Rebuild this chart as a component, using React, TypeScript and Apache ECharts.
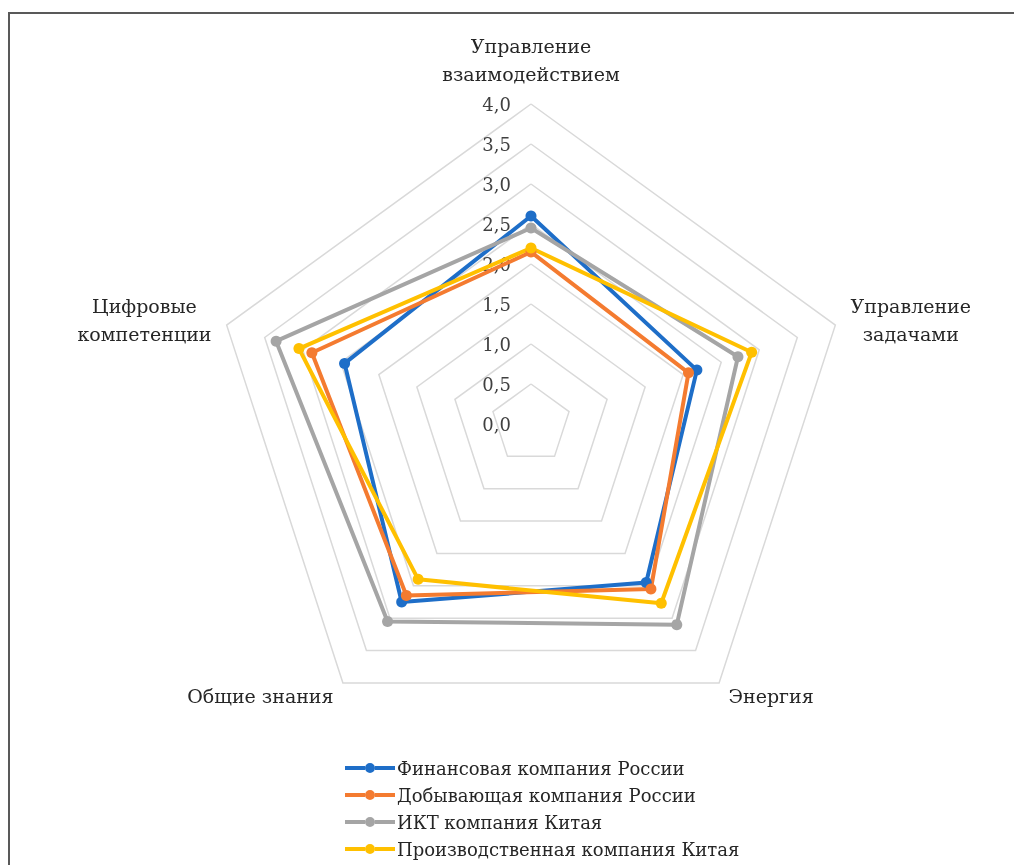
import React, { useEffect, useRef } from "react";
import * as echarts from "echarts";

const categories = [
  "Управление\nвзаимодействием",
  "Цифровые\nкомпетенции",
  "Общие знания",
  "Энергия",
  "Управление\nзадачами",
];
const axisMax = 4;
const seriesNames = [
  "Финансовая компания России",
  "Добывающая компания России",
  "ИКТ компания Китая",
  "Производственная компания Китая",
];
const finRussia = [2.6, 2.45, 2.75, 2.45, 2.18];
const mineRussia = [2.15, 2.88, 2.65, 2.55, 2.07];
const ictChina = [2.45, 3.35, 3.05, 3.1, 2.72];
const prodChina = [2.2, 3.05, 2.4, 2.77, 2.9];
const seriesValues = [finRussia, mineRussia, ictChina, prodChina];
const colors = ["#1e6ec8", "#f47b30", "#a5a5a5", "#ffc000"];

const FONT = "'DejaVu Serif', 'Liberation Serif', serif";
const legendIcon =
  "path://M0,3 L20,3 L20,7 L0,7 Z M30,3 L50,3 L50,7 L30,7 Z M20,5 A5,5 0 1 0 30,5 A5,5 0 1 0 20,5 Z";

export default function App() {
  const ref = useRef<HTMLDivElement>(null);
  useEffect(() => {
    if (!ref.current) return;
    const chart = echarts.init(ref.current, null, { renderer: "svg" });
    chart.setOption({
      animation: false,
      backgroundColor: "transparent",
      legend: {
        orient: "vertical",
        left: 340,
        top: 753,
        height: 120,
        icon: legendIcon,
        itemWidth: 50,
        itemHeight: 10,
        itemGap: 7,
        data: seriesNames,
        textStyle: {
          fontFamily: FONT,
          fontSize: 18,
          lineHeight: 20,
          color: "#262626",
          padding: [0, 0, 0, -3],
        },
      },
      radar: {
        center: [531, 424],
        radius: 320,
        shape: "polygon",
        splitNumber: 8,
        startAngle: 90,
        nameGap: 16,
        indicator: categories.map((c, i) => ({
          name: c,
          min: 0,
          max: axisMax,
          ...(i === 0
            ? {
                axisLabel: {
                  show: true,
                  margin: 20,
                  fontFamily: FONT,
                  fontSize: 18,
                  color: "#404040",
                  formatter: (v: number) => v.toFixed(1).replace(".", ","),
                },
              }
            : {}),
        })),
        axisName: {
          formatter: (name: string) =>
            name
              .split("\n")
              .map((l) => `{c|${l}}`)
              .join("\n"),
          rich: {
            c: {
              align: "center",
              fontFamily: FONT,
              fontSize: 19,
              lineHeight: 28,
              color: "#262626",
            },
          },
        },
        axisLine: { show: false },
        axisTick: { show: false },
        axisLabel: { show: false },
        splitArea: { show: false },
        splitLine: { lineStyle: { color: "#d9d9d9", width: 1.5 } },
      },
      series: [
        {
          type: "radar",
          symbol: "circle",
          symbolSize: 11,
          data: seriesValues.map((vals, i) => ({
            name: seriesNames[i],
            value: vals,
            itemStyle: { color: colors[i] },
            lineStyle: { color: colors[i], width: 4 },
          })),
        },
      ],
    });
    return () => chart.dispose();
  }, []);
  return (
    <>
      <div
        style={{
          position: "fixed",
          left: 8,
          top: 12,
          width: 1006,
          height: 853,
          borderTop: "2px solid #595959",
          borderLeft: "2px solid #595959",
          boxSizing: "border-box",
        }}
      />
      <div
        ref={ref}
        style={{ position: "fixed", left: 0, top: 0, width: 1014, height: 865 }}
      />
    </>
  );
}
